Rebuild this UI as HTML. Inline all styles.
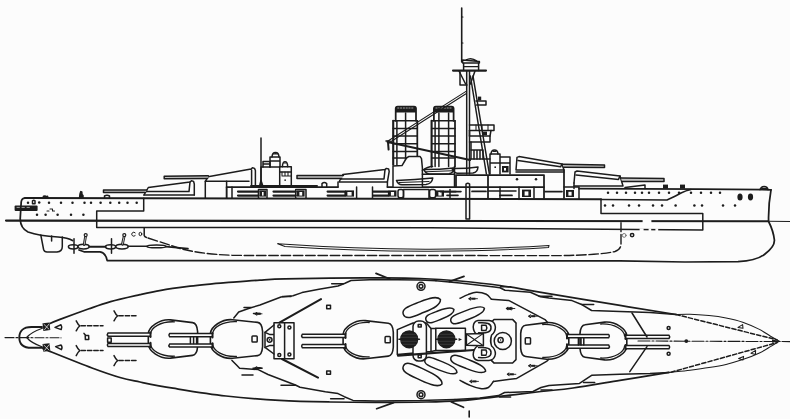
<!DOCTYPE html>
<html>
<head>
<meta charset="utf-8">
<title>Battleship profile and plan</title>
<style>
html,body{margin:0;padding:0;background:#fcfcfc;font-family:"Liberation Sans",sans-serif;}
svg{display:block;}
.k{stroke:#1c1c1c;fill:none;stroke-width:1.5;stroke-linecap:round;stroke-linejoin:round;}
.b{stroke-width:2.1;}
.m{stroke-width:1.75;}
.t{stroke-width:1.05;}
.f{fill:#1c1c1c;}
.w{fill:#fcfcfc;}
</style>
</head>
<body>
<svg width="790" height="419" viewBox="0 0 790 419">
<rect x="0" y="0" width="790" height="419" fill="#fcfcfc"/>

<!-- ================= PROFILE ================= -->
<g class="k" id="profile">
<!-- waterline -->
<path class="b" d="M6 220.6 L768 221.3"/>
<path class="t" d="M768 221.3 L790 221.6"/>
<!-- hull outline -->
<path class="m" d="M25 198 Q21.6 198 21.2 202 L20.2 219 Q20.6 228.4 28 232 Q39 236 58 237 Q68 237.8 72.5 240.5"/>
<path class="m" d="M79 250 L84 251.8 L100 251.8 Q105.5 252.5 107.2 260.6 L620 260.8 L685 262 L738 261.6 Q757 260.8 765 254 Q774.8 246.6 774.4 240 Q773.4 231 768.6 221.5 Q768.2 205 771 189.8"/>
<!-- main deck line -->
<path class="b" d="M25 198 L143.7 198.3 L601 199.2"/>
<path d="M601 199.6 L667 200 Q676 196 681 193 Q686 190.3 691 189.4"/>
<!-- forecastle deck -->
<path class="m" d="M579 188.6 L700 189 L771 189.8"/>
<!-- belt -->
<path d="M143.7 198.3 L143.7 211 L96.7 211 L96.7 227.4 L430 227.8 L702.8 230 L702.8 213.6 L601 213.4 L601 199.2"/>
<g class="f" stroke="none"><circle cx="39.2" cy="202.5" r="1.25"/>
<circle cx="28.0" cy="202.7" r="1.25"/><circle cx="49.0" cy="202.7" r="1.25"/><circle cx="61.0" cy="202.7" r="1.25"/><circle cx="72.5" cy="202.7" r="1.25"/><circle cx="84.5" cy="202.7" r="1.25"/><circle cx="91.0" cy="202.7" r="1.25"/><circle cx="100.6" cy="202.7" r="1.25"/><circle cx="110.3" cy="202.7" r="1.25"/><circle cx="119.2" cy="202.7" r="1.25"/><circle cx="127.5" cy="202.7" r="1.25"/><circle cx="136.7" cy="202.7" r="1.25"/>
<circle cx="37.0" cy="214.7" r="1.25"/><circle cx="45.6" cy="214.7" r="1.25"/><circle cx="57.6" cy="214.7" r="1.25"/><circle cx="71.0" cy="214.7" r="1.25"/><circle cx="83.4" cy="214.7" r="1.25"/>
<circle cx="608.0" cy="192.8" r="1.25"/><circle cx="617.0" cy="192.8" r="1.25"/><circle cx="626.0" cy="192.8" r="1.25"/><circle cx="635.0" cy="192.8" r="1.25"/><circle cx="642.0" cy="192.8" r="1.25"/><circle cx="649.0" cy="192.8" r="1.25"/><circle cx="659.0" cy="192.8" r="1.25"/><circle cx="669.0" cy="192.8" r="1.25"/><circle cx="679.0" cy="192.8" r="1.25"/><circle cx="691.0" cy="192.8" r="1.25"/><circle cx="701.0" cy="192.8" r="1.25"/><circle cx="711.0" cy="192.8" r="1.25"/><circle cx="720.0" cy="192.8" r="1.25"/>
<circle cx="605.0" cy="205.4" r="1.25"/><circle cx="613.0" cy="205.4" r="1.25"/><circle cx="629.0" cy="205.4" r="1.25"/><circle cx="639.0" cy="205.4" r="1.25"/><circle cx="653.0" cy="205.4" r="1.25"/><circle cx="662.0" cy="205.4" r="1.25"/><circle cx="675.6" cy="205.4" r="1.25"/><circle cx="694.4" cy="205.4" r="1.25"/><circle cx="702.0" cy="205.4" r="1.25"/><circle cx="723.0" cy="205.4" r="1.25"/><circle cx="735.0" cy="205.4" r="1.25"/>
<circle cx="517.0" cy="179.2" r="1.25"/><circle cx="536.0" cy="179.2" r="1.25"/>
</g>
<rect class="f" stroke="none" x="14.6" y="205.6" width="23" height="5.4" rx="1"/>
<g stroke="#fcfcfc" stroke-width="0.6" fill="none"><path d="M17 207.4 L19.4 207.4 M22 207.4 L24.4 207.4 M27 207.4 L29.4 207.4"/></g>
<path d="M32.5 203.8 L32.5 200.8 Q33.8 199.8 35 200.8 L35 203.8 Z"/>
<path class="f" d="M43 198 L43.5 196.3 L45 196 L46 196.6 L47.5 196.2 L48 198 Z"/>
<path class="f" d="M79.5 198 L80 194 L80.8 191.6 L81.8 192 L82 194.5 L83 195.5 L83 198 Z"/>
<path d="M104.5 198 L104.5 196 Q107 194.6 109.5 196 L109.5 198"/>
<path class="t" d="M50 209 L52.5 209 M52.5 209 L52.5 211 M52.5 211 L54.5 211 M47 211 L49 211"/>
<path d="M40.8 235 L43.6 249.5 Q44.3 252 47 252 L57 252 Q62.3 251.5 62.3 246.5 L62.3 237"/>
<path d="M51.6 236 L51.6 241"/>
<ellipse class="w" cx="73.2" cy="246.8" rx="4.8" ry="2.1"/>
<path d="M74 238.8 L74 253.2"/>
<ellipse class="w" cx="83.6" cy="246.6" rx="5.6" ry="2.4"/>
<ellipse class="w" cx="110.6" cy="246.8" rx="5.1" ry="2.1"/>
<path d="M111.5 238.8 L111.5 253.2"/>
<ellipse class="w" cx="122" cy="246.6" rx="6.2" ry="2.4"/>
<path stroke-width="2" d="M89.4 246.7 L105.4 246.8"/>
<path stroke-width="1.6" d="M128.2 246.2 L147 246.3 M166 246.6 L188 248.6"/>
<path stroke-width="2.7" d="M85.6 236 L84.2 244.6"/>
<path stroke="#fcfcfc" stroke-width="0.7" d="M85.55 236.6 L84.3 244.2"/>
<circle class="w" cx="85.69999999999999" cy="235.1" r="1.5" stroke-width="1.2"/>
<path stroke-width="2.7" d="M124.2 236 L122.4 244.4"/>
<path stroke="#fcfcfc" stroke-width="0.7" d="M124.15 236.6 L122.5 244.0"/>
<circle class="w" cx="124.3" cy="235.1" r="1.5" stroke-width="1.2"/>
<path stroke-width="1" d="M135.2 232.8 A2 2 0 1 0 135.2 235.6"/>
<ellipse stroke-width="1" cx="140.4" cy="234" rx="1.4" ry="1.7"/>
<ellipse cx="156.5" cy="246.4" rx="9.6" ry="1.3"/>
<circle cx="624.2" cy="235.4" r="1.9" stroke-width="0.9" stroke="#666"/><circle cx="632.1" cy="235.1" r="1.7" stroke-width="1.5"/>
<path d="M144.2 228 L144.2 235.5 Q144.5 237 146.5 237.4"/>
<path stroke-width="1.4" stroke-dasharray="9.5 2.8" d="M148 238 Q165 243.5 180 248.5 Q200 254 232 255.3 L250 255.5 L560 255.6 Q600 255 615 251.5 Q621 249.5 621 244 L621 222.6"/>
<path stroke-width="1.05" d="M277.6 243.8 Q360 249.4 430 249.2 Q500 248.8 549 245.4 L548.6 247.4 Q500 250.8 430 251.2 Q360 251.4 285 246.4 Z"/>
<path d="M144 195 L148.3 187.5 L190 182 L191.4 180.8 L193.6 181.4 L194.3 184 L194.3 195"/>
<path d="M144 195 L194.3 195 M146.2 191.6 L189 191.6 L190 182"/>
<path fill="#c4c4c4" d="M146.8 190 L103.5 190 L103.5 192.6 L145.4 192.6"/>
<path d="M205.3 181.3 L208 176.8 L251 169 L252.4 167.8 L254.6 168.4 L255.4 170.6 L255.4 186 M205.3 181.3 L249 181.3 M251.6 170 L251.6 186"/>

<path d="M205.3 181.3 L205.3 198 M226.6 181.3 L226.6 198"/>
<path fill="#c4c4c4" d="M208.3 175.8 L164.2 176.2 L164.2 178.8 L207.6 178.6"/>
<path d="M339 182 L343 174.4 L385 169.6 L386.4 168.4 L388.6 169 L389.2 171.4 L387.4 182 Z"/>
<path d="M341 179 L384 179 L385 169.6"/>
<path d="M338 182 L338 187 M387.4 182 L387.4 187"/>
<path fill="#c4c4c4" d="M343.4 175.4 L297 175.6 L297 178.4 L341.6 178.4"/>
<path d="M516 170 L517 157.4 L519 156.6 L562 164 L564 170 Z"/>
<path d="M518 160.5 L560.6 166.8 L562 164"/>
<path d="M516 172 L564 172"/>
<path fill="#c4c4c4" d="M562.6 164.3 L604.5 165 L604.5 167.6 L563.4 167.2"/>
<path class="m" d="M564 170 L564 198"/>
<path d="M574 183 L575 172 L577 171 L620 176 L623 186 L574 186"/>
<path d="M576 175 L618.5 179.4 L620 176"/>
<path d="M574 183 L574 188.6"/>
<path fill="#c4c4c4" d="M621 178 L664 178.4 L664 181.6 L622 181.4"/>
<path d="M625 187.6 L645 185 L645 188.6"/>
<rect class="f" stroke="none" x="663" y="184.6" width="5" height="4"/>
<rect class="f" stroke="none" x="680" y="184.6" width="5" height="4"/>
<ellipse class="f" stroke="none" cx="740" cy="197" rx="2.6" ry="3.6"/><ellipse class="f" stroke="none" cx="750.5" cy="197" rx="2.6" ry="3.4"/>
<path d="M760 189.6 Q761 186.6 764 186.4 Q767.6 186.6 768 189.6"/><path class="t" d="M761.5 188.4 L766.6 188.4"/>
<path class="m" d="M226.6 187 L338 187 M387.4 187 L544 187"/>
<path stroke-width="2" d="M251 186 L317 186"/>
<path d="M226.6 187 L226.6 198 M232 187 L232 198"/>
<path stroke-width="2.2" d="M238 191.6 L258.5 191.6 M238 195.6 L258.5 195.6"/><path stroke-width="1.2" d="M258.5 191.6 L258.5 195.6"/>
<path d="M258.5 189.6 L258.5 198 M267 189.6 L267 198 M258.5 189.6 L267 189.6"/>
<rect class="f" stroke="none" x="259.6" y="190.4" width="6.399999999999977" height="6.199999999999989"/><rect class="w" stroke="none" x="262.0" y="192.0" width="1.6" height="3.6"/>
<path stroke-width="2.2" d="M273.5 191.6 L295.7 191.6 M273.5 195.6 L295.7 195.6"/><path stroke-width="1.2" d="M295.7 191.6 L295.7 195.6"/>
<path d="M295.7 189.6 L295.7 198 M306 189.6 L306 198 M295.7 189.6 L306 189.6"/>
<rect class="f" stroke="none" x="297" y="190.4" width="7.600000000000023" height="6.199999999999989"/><rect class="w" stroke="none" x="299.4" y="192.0" width="2.8" height="3.6"/>
<path stroke-width="2.2" d="M327.6 191.6 L345 191.6 M327.6 195.6 L345 195.6"/><path stroke-width="1.2" d="M345 191.6 L345 195.6"/>
<rect class="f" stroke="none" x="345" y="190.4" width="9" height="6.199999999999989"/><rect class="w" stroke="none" x="347.4" y="192.0" width="4.2" height="3.6"/>
<path d="M356.6 187 L356.6 198 M372.5 187 L372.5 198"/>
<path stroke-width="2.2" d="M373.4 191.6 L388.5 191.6 M373.4 195.6 L388.5 195.6"/><path stroke-width="1.2" d="M388.5 191.6 L388.5 195.6"/>
<rect class="f" stroke="none" x="388.5" y="190.4" width="8.0" height="6.199999999999989"/><rect class="w" stroke="none" x="390.9" y="192.0" width="3.2" height="3.6"/>
<rect x="398" y="189.4" width="5.5" height="8.4" rx="2"/>
<path d="M403.5 189.4 L429 189.4 M403.5 189.4 L403.5 198 M429 189.4 L429 198"/>
<rect x="429.6" y="189.4" width="6" height="8.4" rx="2"/>
<rect class="f" stroke="none" x="436" y="190.4" width="8" height="6.199999999999989"/><rect class="w" stroke="none" x="438.4" y="192.0" width="3.2" height="3.6"/>
<path stroke-width="1.6" d="M444 191.6 L461 191.6 M447 195.4 L458 195.4"/>
<path d="M450 189.6 L450 198"/>
<path d="M261 187 L261 167 L279.7 167 L279.7 187"/>
<path d="M279.7 166.7 L291.3 166.7 L291.3 185 M279.7 172 L291.3 172"/>
<path d="M282.4 166.7 Q282.6 161.8 285 161.8 Q287.6 161.8 287.7 166.7"/>
<path class="f" stroke="none" d="M283.4 163.5 Q285 161.6 286.7 163.5 Z"/>
<path d="M270 167 L270 157 L280 157 L280 166.7 M270 161 L280 161"/>
<path d="M272 157 Q272.2 152.4 275.5 152.4 Q278.8 152.4 279 157"/>
<path class="f" stroke="none" d="M273 154.4 Q275.5 151.6 278 154.4 Z"/>
<path d="M263 161.5 L270 161.5 L270 167 M263 161.5 L263 167 M263 164 L270 164"/>
<path class="t" d="M282 172 L282 176 M285 172 L285 176 M282 176 L291 176 M288 172 L288 176"/>
<rect class="f" stroke="none" x="284.4" y="179.4" width="1.5" height="1.5"/>
<path stroke-width="1.5" d="M261 138 L261 187"/>
<path d="M259.4 186.6 L261 180.4 L263 186.6"/>
<path d="M322 186.6 L322 183.6 Q324.3 181.4 326.7 183.6 L326.7 186.6"/>
<path class="m" d="M395.7 120.8 L395.7 108.6 Q395.7 106.5 397.7 106.5 L414 106.5 Q416 106.5 416 108.6 L416 120.8"/>
<path class="f" stroke="none" d="M395.7 112.6 L395.7 108.6 Q395.7 106.3 397.7 106.3 L414 106.3 Q416 106.3 416 108.6 L416 112.6 Z"/>
<path stroke="#fcfcfc" stroke-width="0.6" stroke-dasharray="1.2 1.6" d="M397.7 108 L414 108"/>
<path class="b" d="M393.2 120.8 L393.2 164.7"/><path class="m" d="M417.3 120.8 L417.3 164.7"/>
<path d="M396.9 120.8 L396.9 164.7"/>
<path d="M393.2 120.8 L417.3 120.8"/>
<path d="M393.2 128.4 L417.3 128.4"/>
<path d="M393.2 136 L417.3 136"/>
<path d="M393.2 143.7 L417.3 143.7"/>
<path d="M393.2 151.4 L417.3 151.4"/>
<path d="M393.2 158 L417.3 158"/>
<path d="M405.6 113 L405.6 164.7"/>
<path class="m" d="M433.9 120.8 L433.9 108.6 Q433.9 106.5 435.9 106.5 L451.6 106.5 Q453.6 106.5 453.6 108.6 L453.6 120.8"/>
<path class="f" stroke="none" d="M433.9 112.6 L433.9 108.6 Q433.9 106.3 435.9 106.3 L451.6 106.3 Q453.6 106.3 453.6 108.6 L453.6 112.6 Z"/>
<path stroke="#fcfcfc" stroke-width="0.6" stroke-dasharray="1.2 1.6" d="M435.9 108 L451.6 108"/>
<path class="b" d="M431.6 120.8 L431.6 166.6"/><path class="m" d="M455 120.8 L455 166.6"/>
<path d="M435.1 120.8 L435.1 166.6"/>
<path d="M431.6 120.8 L455 120.8"/>
<path d="M431.6 128.4 L455 128.4"/>
<path d="M431.6 136 L455 136"/>
<path d="M431.6 143.7 L455 143.7"/>
<path d="M431.6 151.4 L455 151.4"/>
<path d="M431.6 158 L455 158"/>
<path d="M438.9 113 L438.9 166.6"/>
<path d="M448.6 113 L448.6 166.6"/>
<path class="t" d="M387.6 141.2 L466 91.4 M388.4 143.2 L466 93.8"/>
<path class="b" d="M387.6 142 L470 160"/>
<path stroke-width="2" d="M388 142 L388.6 149.6"/>
<path d="M386 141 L390 141"/>
<path stroke-width="1.6" d="M461.7 8 L461.7 62"/>
<path class="t" d="M461.5 17 L463 17 M461.5 43 L463 43"/>
<path d="M463.6 70.5 L463.6 63 L478.6 63 L478.6 70.5 M462.6 60 L479.4 61.6 L479.4 63 L462.6 63 Z M466 60.2 Q471 56.8 477 61.2"/>
<path class="t" d="M463.6 66.6 L478.6 66.6"/>
<path class="b" d="M453 70.6 L486 70.6"/>
<path d="M459 71 L465.6 84 M475 71 L470.4 84"/>
<path d="M460 72 L460 85 L467 85"/>
<path d="M466.7 71 L466.7 174 M469.5 71 L469.5 174"/>
<path d="M470.4 76 L486.4 174 M473 76 L489.4 174"/>
<path d="M476 101 L486 101 L486 105 L476.6 105"/>
<rect class="f" stroke="none" x="478" y="96.6" width="3.2" height="3.8"/>
<path d="M469.5 125 L494 125 L494 130.4 L469.5 130.4"/>
<path class="t" d="M476 125 L476 130.4 M482 125 L482 130.4 M488 125 L488 130.4"/>
<rect class="f" stroke="none" x="483" y="131.6" width="4" height="3.6"/>
<path d="M469.5 136 L490 136 L490 142 L469.5 142"/>
<path d="M469.5 130.4 L469.5 136 M491 130.4 L490 136"/>
<path d="M471 150 L483 150 L483 159 M471 150 L471 159 M474 150 L474 159 M477 150 L477 159 M480 150 L480 159"/>
<path d="M469.5 159 L490 159 M471 142 L471 150"/>
<path d="M452 168.6 Q466 168.8 478 167 Q477.6 172.2 473 173 L457 173.2 Q453.4 172.6 452 168.6 Z"/>
<path d="M490 174 L490 154 L500 154 L500 174 M500 157 L510 157 L510 174 M490 163 L510 163"/>
<path d="M491 154 Q491.2 150 494.5 150 Q497.8 150 498 154"/>
<path class="f" stroke="none" d="M492 152 Q494.5 149.4 497 152 Z"/>
<rect class="f" stroke="none" x="502" y="166" width="6.6" height="6.4"/>
<rect class="w" stroke="none" x="504" y="168" width="2" height="2.6"/>
<rect class="f" stroke="none" x="494.4" y="166.4" width="1.6" height="1.6"/>
<path class="m" d="M456 175 L516 175 M456 175 L456 187 M488 175 L488 198 M544 175 L544 187 L544 198 M500 175 L544 175"/>
<path d="M466 184 L466 219 M469.6 184 L469.6 219 M466 219 L469.6 219 M466 184 Q467.8 182.4 469.6 184"/>
<path stroke-width="1.6" d="M440 191.6 L456 191.6"/>
<path d="M488 191 L516 191 M500 187 L500 198"/>
<path stroke-width="1.7" d="M472 191.4 L486 191.4 M545 191.6 L562 191.6 M500 195.4 L512 195.4"/>
<rect class="f" stroke="none" x="522" y="189.6" width="9" height="7.4"/><rect class="w" stroke="none" x="524.6" y="191.4" width="3.8" height="4.2"/>
<path d="M519 187 L519 198 M534 187 L534 198"/>
<rect class="f" stroke="none" x="566" y="190" width="8" height="7"/><rect class="w" stroke="none" x="568.4" y="191.8" width="3.2" height="3.8"/>
<path d="M564 187 L579 187 M579 187 L579 198.6"/>
<path class="w" d="M393 186.6 L393 166 L402 165.6 L406.5 158 L409 156.4 L420 156.4 L421.5 158.6 L422.4 168 L422.4 186.6"/><path d="M454.5 166.6 L454.5 186.6"/>
<path d="M422.4 170.5 Q428 166.5 432.6 166.6"/>
<path d="M396.5 180.4 Q415 180 432.8 178 Q432 183.6 426 184.6 L402 184.8 Q398 184.4 396.5 180.4 Z"/>
<path class="t" d="M399 182.6 L429 181.4"/>
<path d="M424 169.6 Q440 169.6 454 168 Q453.6 173 449 173.8 L429 174 Q425.4 173.6 424 169.6 Z"/>
<path class="t" d="M426 171.8 L452 170.8"/>
<path d="M422.4 174.2 L454.5 174.2"/>
<rect class="w" stroke="none" x="642.6" y="219.4" width="8.8" height="4.4"/>
<rect class="w" stroke="none" x="639.6" y="228.4" width="4" height="3"/>
<rect class="w" stroke="none" x="648.6" y="228.4" width="2.6" height="3"/>
<rect class="w" stroke="none" x="655.4" y="228.4" width="2.8" height="3"/>
</g>

<!-- ================= PLAN ================= -->
<g class="k" id="plan">
<path class="m" d="M44.0 326.4 C44.6 326.1 44.7 325.8 47.4 324.6 C50.1 323.4 53.1 322.0 60.0 319.4 C66.9 316.8 80.6 311.8 89.0 308.8 C97.4 305.8 102.1 304.0 110.6 301.6 C119.1 299.2 131.6 296.5 140.0 294.6 C148.4 292.7 152.7 291.7 161.0 290.3 C169.3 288.9 181.5 287.3 190.0 286.2 C198.5 285.1 206.0 284.5 212.0 283.9 C218.0 283.3 218.0 283.2 226.0 282.6 C234.0 282.0 250.2 280.7 260.0 280.1 C269.8 279.5 273.3 279.2 285.0 278.9 C296.7 278.6 314.8 278.3 330.0 278.1 C345.2 277.9 361.0 277.8 376.0 277.9 C391.0 278.0 406.0 278.0 420.0 278.5 C434.0 279.0 446.7 279.8 460.0 281.0 C473.3 282.2 486.5 283.6 500.0 285.5 C513.5 287.4 521.0 289.0 541.0 292.3 C561.0 295.6 597.5 301.7 620.0 305.4 C642.5 309.1 666.7 313.0 676.0 314.5"/>
<path class="m" d="M44.0 348.8 C44.6 349.1 39.4 347.2 47.4 350.4 C55.4 353.6 79.9 363.5 92.0 368.0 C104.1 372.5 112.0 375.2 120.0 377.5 C128.0 379.8 131.2 380.2 140.0 382.0 C148.8 383.8 158.7 385.9 173.0 388.2 C187.3 390.5 208.2 394.0 226.0 396.0 C243.8 398.0 262.2 399.4 279.5 400.4 C296.8 401.4 313.9 401.7 330.0 402.0 C346.1 402.3 360.0 402.4 376.0 402.4 C392.0 402.4 412.0 402.3 426.0 402.0 C440.0 401.7 447.7 401.5 460.0 400.6 C472.3 399.7 486.5 397.9 500.0 396.4 C513.5 394.9 528.8 392.9 541.0 391.5 C553.2 390.1 559.8 389.9 573.0 388.0 C586.2 386.1 604.0 383.0 620.0 380.4 C636.0 377.8 660.8 373.7 669.0 372.4"/>
<path class="t" d="M676.0 314.5 C678.3 314.4 684.5 314.0 690.0 314.2 C695.5 314.4 703.0 315.0 709.0 315.6 C715.0 316.2 720.4 316.9 726.0 318.0 C731.6 319.1 737.1 320.3 742.7 322.2 C748.3 324.1 754.8 327.1 759.4 329.4 C764.0 331.7 767.2 334.2 770.5 336.2 C773.8 338.2 777.6 340.4 779.0 341.3"/>
<path class="t" d="M669.0 372.4 C672.5 372.0 683.3 371.0 690.0 370.2 C696.7 369.4 703.0 368.6 709.0 367.6 C715.0 366.6 720.4 365.7 726.0 364.4 C731.6 363.1 737.1 361.5 742.7 359.6 C748.3 357.7 754.8 355.2 759.4 353.0 C764.0 350.8 767.2 348.6 770.5 346.6 C773.8 344.7 777.6 342.2 779.0 341.3"/>
<path stroke-dasharray="4.2 2.2" d="M676 314.5 L777 339.8 M671 372.2 L777 342.6"/>
<path class="f" stroke="none" d="M772 339.6 L781.6 341.2 L772 342.8 Z"/>
<path stroke-width="1.15" stroke-dasharray="9 2 2 2" d="M5 337.6 L61 337.8"/>
<path stroke-width="1.1" stroke-dasharray="12 2 2 2" d="M638 341 L790 341.6"/>
<circle class="f" stroke="none" cx="686.3" cy="341.1" r="1.9"/>
<path stroke-width="1.9" d="M42 327 L31.5 327 C22.5 327 19.3 332 19.3 337.4 C19.3 343 22.5 347.8 31.5 347.8 L42 347.8"/>
<path stroke-width="1.2" d="M42.4 328.2 Q31 332.2 26.6 337.5 Q31 342.8 42.4 347"/>
<path class="f" stroke="none" d="M42.5 323.2 L49.5 322.5 L50.3 330.0 L43.4 331.0 Z"/>
<path stroke="#fcfcfc" stroke-width="0.7" d="M44 324.40000000000003 L49 329.2 M49 324.0 L44.6 329.6"/>
<path class="f" stroke="none" d="M42.5 344.0 L49.5 343.3 L50.3 350.8 L43.4 351.8 Z"/>
<path stroke="#fcfcfc" stroke-width="0.7" d="M44 345.20000000000005 L49 350.0 M49 344.8 L44.6 350.40000000000003"/>
<path d="M55 327.4 L61 324.8 Q62.6 327.2 61.2 329.6 Z"/>
<path d="M55.6 346.6 L61 345 Q62.8 347.2 61.4 349.6 Z"/>
<path d="M76.19999999999999 320.8 Q78.19999999999999 324.8 79.8 325.8 Q78.19999999999999 326.8 76.19999999999999 330.8"/>
<path stroke-dasharray="4.4 2" d="M81.0 325.8 L103 325.8"/>
<path d="M76.19999999999999 345.6 Q78.19999999999999 349.6 79.8 350.6 Q78.19999999999999 351.6 76.19999999999999 355.6"/>
<path stroke-dasharray="4.4 2" d="M81.0 350.6 L103 350.6"/>
<path d="M114.0 310.8 Q116.0 314.8 117.60000000000001 315.8 Q116.0 316.8 114.0 320.8"/>
<path stroke-dasharray="4.4 2" d="M118.80000000000001 315.8 L137.5 315.8"/>
<path d="M114.0 355.6 Q116.0 359.6 117.60000000000001 360.6 Q116.0 361.6 114.0 365.6"/>
<path stroke-dasharray="4.4 2" d="M118.80000000000001 360.6 L137.5 360.6"/>
<path d="M84 333.4 L85.8 335.4 M85.2 335.6 L88.6 335.4 L88.8 339.4 L85.4 339.6 Z"/>
<path class="w" stroke-width="1.6" d="M197.6 346.5 L197.6 331.5 Q197.0 323.1 192.6 322.6 L170.4 319.9 C159.4 319.0 148.9 327.0 148.3 333.5 L148.3 344.5 C148.9 351.0 159.4 359.0 170.4 358.1 L192.6 355.4 Q197.0 354.9 197.6 346.5 Z"/>
<path stroke-width="1.3" d="M174.4 321.8 C160.4 321.2 150.9 327.7 150.5 334.0 M150.5 344.0 C150.9 350.3 160.4 356.8 174.4 356.2"/>
<path class="w" d="M150.5 333.0 L108 333.0 Q106.6 334.6 108 336.2 L150.5 336.2"/>
<path stroke-width="2" d="M150.5 332.4 L150.5 336.9"/>
<path class="w" d="M150.5 343.4 L108 343.4 Q106.6 345.0 108 346.6 L150.5 346.6"/>
<path stroke-width="2" d="M150.5 342.8 L150.5 347.2"/>
<rect x="107.6" y="338" width="3.6" height="4.2"/>
<path class="w" stroke-width="1.6" d="M262.6 346.5 L262.6 331.5 Q262.0 322.9 257.6 322.4 L232.5 319.7 C221.5 318.8 211.0 326.8 210.4 333.5 L210.4 344.5 C211.0 351.2 221.5 359.2 232.5 358.3 L257.6 355.6 Q262.0 355.1 262.6 346.5 Z"/>
<path stroke-width="1.3" d="M236.5 321.6 C222.5 321.0 213.0 327.6 212.6 334.0 M212.6 344.0 C213.0 350.4 222.5 357.0 236.5 356.4"/>
<rect x="252.0" y="335.9" width="5.2" height="6.2" rx="0.8"/>
<path class="w" d="M212.5 333.5 L169.6 333.5 Q168.2 335.1 169.6 336.8 L212.5 336.8"/>
<path stroke-width="2" d="M212.5 332.9 L212.5 337.4"/>
<path class="w" d="M212.5 343.9 L169.6 343.9 Q168.2 345.5 169.6 347.1 L212.5 347.1"/>
<path stroke-width="2" d="M212.5 343.2 L212.5 347.8"/>
<path d="M190.4 337.3 L190.4 343.4 M193.6 337.3 L193.6 343.4 M196.6 337.3 L196.6 343.4"/>
<path class="w" stroke-width="1.6" d="M393.3 347.2 L393.3 332.2 Q392.7 323.8 388.3 323.3 L365.2 320.6 C354.2 319.7 343.7 327.7 343.1 334.2 L343.1 345.2 C343.7 351.7 354.2 359.7 365.2 358.8 L388.3 356.1 Q392.7 355.6 393.3 347.2 Z"/>
<path stroke-width="1.3" d="M369.2 322.5 C355.2 321.9 345.7 328.4 345.3 334.7 M345.3 344.7 C345.7 351.0 355.2 357.5 369.2 356.9"/>
<rect x="385.1" y="336.6" width="5.2" height="6.2" rx="0.8"/>
<path class="w" d="M345.5 334.2 L302.3 334.2 Q300.90000000000003 335.8 302.3 337.4 L345.5 337.4"/>
<path stroke-width="2" d="M345.5 333.6 L345.5 338.1"/>
<path class="w" d="M345.5 344.6 L302.3 344.6 Q300.90000000000003 346.2 302.3 347.8 L345.5 347.8"/>
<path stroke-width="2" d="M345.5 343.9 L345.5 348.4"/>
<path class="w" stroke-width="1.6" d="M580.0 348.5 L580.0 333.5 Q580.6 325.3 585.0 324.8 L604.7 322.1 C615.7 321.2 626.2 329.1 626.8 335.5 L626.8 346.5 C626.2 352.9 615.7 360.8 604.7 359.9 L585.0 357.2 Q580.6 356.7 580.0 348.5 Z"/>
<path stroke-width="1.3" d="M600.7 324.0 C614.7 323.4 624.2 329.9 624.6 336.0 M624.6 346.0 C624.2 352.1 614.7 358.6 600.7 358.0"/>
<path class="w" d="M625.5 335.2 L669 335.2 Q670.4 336.8 669 338.4 L625.5 338.4"/>
<path stroke-width="2" d="M625.5 334.6 L625.5 339.1"/>
<path class="w" d="M625.5 345.6 L669 345.6 Q670.4 347.2 669 348.8 L625.5 348.8"/>
<path stroke-width="2" d="M625.5 344.9 L625.5 349.4"/>
<path class="w" stroke-width="1.6" d="M520.7 348.4 L520.7 333.4 Q521.3 325.8 525.7 325.3 L546.7 322.6 C557.7 321.7 568.2 329.4 568.8 335.4 L568.8 346.4 C568.2 352.4 557.7 360.1 546.7 359.2 L525.7 356.5 Q521.3 356.0 520.7 348.4 Z"/>
<path stroke-width="1.3" d="M542.7 324.5 C556.7 323.9 566.2 330.1 566.6 335.9 M566.6 345.9 C566.2 351.7 556.7 357.9 542.7 357.3"/>
<rect x="525.3" y="337.8" width="5.2" height="6.2" rx="0.8"/>
<path class="w" d="M567 334.6 L608.7 334.6 Q610.1 336.2 608.7 337.8 L567 337.8"/>
<path stroke-width="2" d="M567 333.9 L567 338.4"/>
<path class="w" d="M567 344.9 L608.7 344.9 Q610.1 346.6 608.7 348.2 L567 348.2"/>
<path stroke-width="2" d="M567 344.3 L567 348.8"/>
<path d="M578.4 338 L578.4 345 M581 338 L581 345 M583.8 338 L583.8 345"/>
<circle cx="668.6" cy="328" r="1.5"/><circle cx="668.6" cy="353.8" r="1.5"/>
<path d="M632 313 L647 337 M647 346.6 L629.8 371.6"/>
<path class="t" d="M738 327.4 L742.6 324.6 L743 328.2 Z M738.6 358.4 L743.6 356.4 L743 360 Z M751 353.2 L755.6 350.4 L755.4 354.4 Z"/>
<path d="M233.8 318.0 L238.7 312.0 L250.0 308.0 L260.0 305.0 L281.0 297.0 L293.0 295.7 L302.0 292.6 L319.0 289.2 L338.0 286.0 L345.0 283.2 L351.0 280.5 L376.0 279.6 L420.0 280.1 L436.0 280.8"/>
<path stroke-width="1.5" d="M244 307.6 L251 307.6"/>
<path stroke-width="1.5" d="M253.5 313.4 L260 313.4"/>
<path stroke-width="1.5" d="M282.5 296.6 L291 296.6"/>
<path stroke-width="1.5" d="M331.7 283.8 L343.4 283.8"/>
<path d="M232.0 360.4 L237.0 365.6 L239.6 368.2 L258.2 369.6 L268.0 374.5 L295.4 385.0 L300.0 387.2 L325.3 391.7 L338.0 393.6 L344.3 396.7 L353.0 400.4 L376.0 400.9 L420.0 400.6 L455.0 399.4"/>
<path stroke-width="1.5" d="M242 374.9 L253 374.9"/>
<path stroke-width="1.5" d="M253 368.3 L262 368.3"/>
<path stroke-width="1.5" d="M281 385.2 L295.4 385.2"/>
<path stroke-width="1.5" d="M330.6 398.8 L344 398.8"/>
<path stroke-width="0.9" d="M255.0 313.8 L262.0 313.8"/><path stroke-width="2" stroke-linecap="butt" d="M256.7 313.8 L260.7 313.8"/><path class="t" d="M256.8 312.5 L255.0 313.8 L256.8 315.1"/>
<path stroke-width="0.9" d="M255.0 368 L262.0 368"/><path stroke-width="2" stroke-linecap="butt" d="M256.7 368 L260.7 368"/><path class="t" d="M256.8 366.7 L255.0 368 L256.8 369.3"/>
<path class="w" d="M265 332.4 L274 325 L274 322.8 L294 322.8 L294 358.8 L274 358.8 L274 354 L265 347.4 Z"/>
<path d="M274 325 L274 354 M284.6 322.8 L284.6 358.8 M265 332.4 L270 334.6 L274 334.6 M265 347.4 L270 345.4 L274 345.4"/>
<circle cx="269.6" cy="339.8" r="2.4"/><circle class="f" stroke="none" cx="269.6" cy="339.8" r="0.9"/>
<circle cx="279.3" cy="326.2" r="1.5"/>
<circle cx="289.4" cy="327.4" r="1.5"/>
<circle cx="279.3" cy="355" r="1.5"/>
<circle cx="289.4" cy="354.4" r="1.5"/>
<path class="b" d="M279.4 322.6 L321 299.2"/>
<path class="b" d="M282 359 L318 377.6"/>
<rect x="326.7" y="305.3" width="3.8" height="3.4"/>
<rect x="326.7" y="370.9" width="3.8" height="3.4"/>
<path class="m" d="M376 273.4 L390 279"/>
<path class="m" d="M449.4 281.6 L464 276.4"/>
<path class="m" d="M376.6 408.7 L393.7 402.6"/>
<path class="m" d="M451.4 402 L463.5 407.3"/>
<path stroke-width="1.6" d="M469.2 411 L469.2 417"/>
<circle cx="421" cy="286.3" r="4"/><circle cx="421" cy="286.3" r="1.9"/>
<circle cx="421" cy="394.7" r="4"/><circle cx="421" cy="394.7" r="1.9"/>
<path class="w" transform="translate(421.9 307.1) rotate(-22.0)" d="M-20.0 0 C-20.0 -6.9 -9.0 -5.6 0 -5.6 C11.0 -5.6 18.4 -4.7 20.0 0 C18.4 4.7 11.0 5.6 0 5.6 C-9.0 5.6 -20.0 6.9 -20.0 0 Z"/>
<path class="w" transform="translate(440.0 314.9) rotate(-21.3)" d="M-15.0 0 C-15.0 -5.5 -6.8 -4.4 0 -4.4 C8.3 -4.4 13.8 -3.7 15.0 0 C13.8 3.7 8.3 4.4 0 4.4 C-6.8 4.4 -15.0 5.5 -15.0 0 Z"/>
<path class="w" transform="translate(467.7 314.8) rotate(-21.6)" d="M-18.0 0 C-18.0 -5.6 -8.1 -4.5 0 -4.5 C9.9 -4.5 16.5 -3.8 18.0 0 C16.5 3.8 9.9 4.5 0 4.5 C-8.1 4.5 -18.0 5.6 -18.0 0 Z"/>
<path class="w" transform="translate(422.7 375.0) rotate(25.0)" d="M-21.3 0 C-21.3 -6.9 -9.6 -5.6 0 -5.6 C11.7 -5.6 19.6 -4.7 21.3 0 C19.6 4.7 11.7 5.6 0 5.6 C-9.6 5.6 -21.3 6.9 -21.3 0 Z"/>
<path class="w" transform="translate(441.0 366.0) rotate(21.8)" d="M-17.2 0 C-17.2 -5.5 -7.8 -4.4 0 -4.4 C9.5 -4.4 15.9 -3.7 17.2 0 C15.9 3.7 9.5 4.4 0 4.4 C-7.8 4.4 -17.2 5.5 -17.2 0 Z"/>
<path class="w" transform="translate(468.3 364.4) rotate(21.5)" d="M-18.6 0 C-18.6 -5.6 -8.4 -4.5 0 -4.5 C10.2 -4.5 17.1 -3.8 18.6 0 C17.1 3.8 10.2 4.5 0 4.5 C-8.4 4.5 -18.6 5.6 -18.6 0 Z"/>
<path class="w" d="M397.3 329.6 L413 323 L426.4 323 L431 328.4 L431 351.6 L397.3 354.6 Z"/>
<rect class="w" x="413" y="321" width="13.4" height="40" rx="5.6"/>
<rect x="418.2" y="324.5" width="3" height="2.6"/>
<rect x="418.2" y="355.1" width="3" height="2.6"/>
<rect class="w" x="435.8" y="328.3" width="29.6" height="22.3"/>
<path d="M431 328.4 L435.8 328.4 M431 351.6 L435.8 350.6"/>
<circle class="f" cx="409.2" cy="339.3" r="8.4"/>
<path stroke-width="1.6" d="M399.0 339.3 L419.4 339.3"/>
<path stroke="#555" stroke-width="0.5" d="M403.2 334.3 L415.2 334.3 M401.2 337.3 L417.2 337.3 M401.2 341.3 L417.2 341.3 M403.2 344.3 L415.2 344.3"/>
<circle class="f" cx="446.4" cy="339.3" r="8.4"/>
<path stroke-width="1.6" d="M436.2 339.3 L456.59999999999997 339.3"/>
<path stroke="#555" stroke-width="0.5" d="M440.4 334.3 L452.4 334.3 M438.4 337.3 L454.4 337.3 M438.4 341.3 L454.4 341.3 M440.4 344.3 L452.4 344.3"/>
<path class="b" d="M398 355.6 L474 350"/>
<path class="f" stroke="none" d="M458.6 338 L462 339.6 L458.6 341 Z"/>
<path class="w" d="M494 319.4 L512.6 319.4 L516 323 L516 359.6 L512.6 363 L494 363 L490.6 359.6 L490.6 323 Z"/>
<path class="t" d="M512.6 319.4 L516 323 M490.6 359.6 L494 363"/>
<circle cx="502.8" cy="341" r="8.6"/><circle cx="500.6" cy="340" r="2.6"/><circle class="f" stroke="none" cx="500.6" cy="340" r="0.7"/>
<path class="w" d="M478 320.6 L489 320.6 Q494.6 321 495.4 327 Q495.4 332 491.6 335 Q489.6 340.8 491.6 346 Q495.4 349 495.4 354 Q494.6 360 489 360.4 L478 360.4 Q473.4 359.6 473.2 354.6 Q473.4 349 477.4 346 L477.4 335 Q473.4 332 473.2 327 Q473.4 321.4 478 320.6 Z"/>
<path d="M481.6 325.2 L486 325.2 Q487.6 327.8 486 330.40000000000003 L481.6 330.40000000000003 Z"/>
<path d="M478.6 322.8 Q491.4 321.8 491 327.8 Q491.4 333.8 478.6 332.8"/>
<path d="M481.6 350.0 L486 350.0 Q487.6 352.6 486 355.20000000000005 L481.6 355.20000000000005 Z"/>
<path d="M478.6 347.6 Q491.4 346.6 491 352.6 Q491.4 358.6 478.6 357.6"/>
<path class="w" d="M466.4 334 L483.4 333.4 L483.4 345.8 L466.4 345.2 Z"/><path class="t" d="M466.4 334 L483.4 345.8 M483.4 333.4 L466.4 345.2"/>
<path d="M436.0 280.8 L460.0 282.9 L494.4 286.9 L500.0 287.8 L505.0 290.2 L530.4 292.2 L540.5 296.8 L549.0 298.0 L572.0 300.6 L581.0 304.2 L591.6 310.5 L620.0 311.6 L650.0 312.4 L676.0 314.5"/>
<path stroke-width="1.5" d="M500.5 286.8 L510.6 286.8"/>
<path stroke-width="1.5" d="M539 296.3 L552 296.3"/>
<path stroke-width="1.5" d="M581.5 304.4 L593.7 304.4"/>
<path d="M460.0 298.3 C461.3 297.7 465.3 295.6 468.0 294.6 C470.7 293.6 473.1 292.4 476.2 292.3 C479.2 292.2 483.8 293.1 486.3 294.3 C488.8 295.5 490.5 298.5 491.4 299.3"/>
<path d="M491.4 299.3 L508.6 300.4 L545.0 319.6 L547.6 322.6"/>
<path stroke-width="0.9" d="M468.95 298.7 L477.45 298.7"/><path stroke-width="2" stroke-linecap="butt" d="M471.4 298.7 L475.4 298.7"/><path class="t" d="M470.75 297.4 L468.95 298.7 L470.75 300.0"/>
<path stroke-width="0.9" d="M506.35 308.5 L514.85 308.5"/><path stroke-width="2" stroke-linecap="butt" d="M508.8 308.5 L512.8000000000001 308.5"/><path class="t" d="M508.15000000000003 307.2 L506.35 308.5 L508.15000000000003 309.8"/>
<path stroke-width="0.9" d="M528.75 316.2 L537.25 316.2"/><path stroke-width="2" stroke-linecap="butt" d="M531.2 316.2 L535.2 316.2"/><path class="t" d="M530.55 314.9 L528.75 316.2 L530.55 317.5"/>
<path d="M455.0 399.4 L480.0 398.0 L498.5 395.6 L504.6 392.5 L533.0 391.5 L541.0 387.5 L549.0 385.4 L579.5 383.4 L591.6 375.3 L620.0 374.3 L650.0 373.4 L669.0 372.4"/>
<path stroke-width="1.5" d="M499.5 397 L510.6 397"/>
<path stroke-width="1.5" d="M541 390.1 L552 390.1"/>
<path stroke-width="1.5" d="M583.5 382.4 L594.7 382.4"/>
<path d="M460.0 380.4 C461.7 381.2 466.6 384.0 470.0 385.4 C473.4 386.8 477.2 388.1 480.3 388.5 C483.4 388.9 486.2 388.7 488.4 387.5 C490.6 386.3 492.6 382.4 493.4 381.4"/>
<path d="M493.4 381.4 L516.7 378.4 L547.0 361.1 L548.6 359.4"/>
<path stroke-width="0.9" d="M528.75 365.8 L537.25 365.8"/><path stroke-width="2" stroke-linecap="butt" d="M531.2 365.8 L535.2 365.8"/><path class="t" d="M530.55 364.5 L528.75 365.8 L530.55 367.1"/>
<path stroke-width="0.9" d="M507.35 374.3 L515.85 374.3"/><path stroke-width="2" stroke-linecap="butt" d="M509.8 374.3 L513.8000000000001 374.3"/><path class="t" d="M509.15000000000003 373.0 L507.35 374.3 L509.15000000000003 375.6"/>
<path stroke-width="0.9" d="M469.95 381.4 L478.45 381.4"/><path stroke-width="2" stroke-linecap="butt" d="M472.4 381.4 L476.4 381.4"/><path class="t" d="M471.75 380.09999999999997 L469.95 381.4 L471.75 382.7"/>
<path stroke-width="0.9" d="M509.4 308.6 L509.4 308.6"/><path stroke-width="2" stroke-linecap="butt" d="M507.59999999999997 308.6 L511.59999999999997 308.6"/><path class="t" d="M511.2 307.3 L509.4 308.6 L511.2 309.90000000000003"/>
</g>
</svg>
</body>
</html>
